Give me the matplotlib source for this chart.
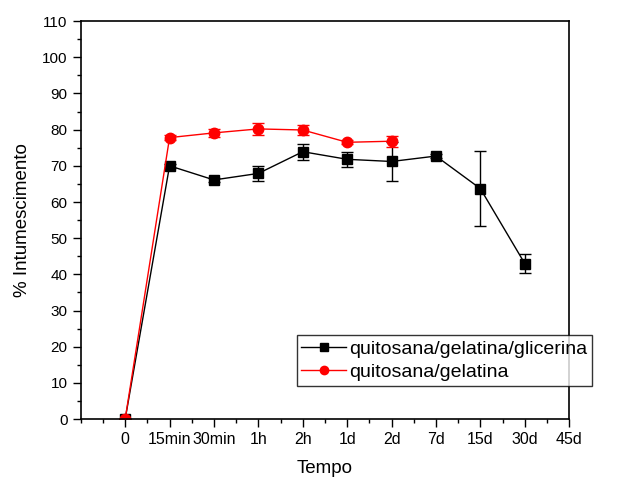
import matplotlib
matplotlib.use("Agg")
import matplotlib.pyplot as plt
from matplotlib.ticker import MultipleLocator

plt.rcParams['font.family'] = ['Liberation Sans', 'DejaVu Sans']

labels = ["0", "15min", "30min", "1h", "2h", "1d", "2d", "7d", "15d", "30d", "45d"]

# quitosana/gelatina/glicerina
glic_x = [0, 1, 2, 3, 4, 5, 6, 7, 8, 9]
glic_y = [0, 70.0, 66.1, 67.9, 73.9, 71.8, 71.2, 72.7, 63.7, 43.0]
glic_err = [0, 0.5, 0.5, 2.0, 2.2, 2.0, 5.4, 0.5, 10.3, 2.7]

# quitosana/gelatina
gel_x = [0, 1, 2, 3, 4, 5, 6]
gel_y = [0, 77.8, 79.1, 80.2, 79.9, 76.5, 76.8]
gel_err = [0, 0.8, 1.0, 1.6, 1.3, 0.5, 1.5]

fig = plt.figure(figsize=(6.31, 4.79), dpi=100)
ax = fig.add_axes([0.128, 0.125, 0.774, 0.831])

# error bars first, then lines+markers (keeps legend clean)
ax.errorbar(glic_x, glic_y, yerr=glic_err, fmt="none", ecolor="black",
            capsize=4, elinewidth=1, capthick=1)
ax.plot(glic_x, glic_y, color="black", marker="s", ms=6.5, lw=1,
        label="quitosana/gelatina/glicerina")
ax.errorbar(gel_x, gel_y, yerr=gel_err, fmt="none", ecolor="red",
            capsize=4, elinewidth=1, capthick=1)
ax.plot(gel_x, gel_y, color="red", marker="o", ms=7.5, lw=1,
        label="quitosana/gelatina")

ax.set_xlim(-1, 10)
ax.set_ylim(0, 110)
ax.set_xticks(range(0, 11))
ax.set_xticklabels(labels)
ax.xaxis.set_minor_locator(MultipleLocator(0.5))
ax.yaxis.set_major_locator(MultipleLocator(10))
ax.yaxis.set_minor_locator(MultipleLocator(5))
ax.tick_params(which="major", direction="out", length=6, width=1)
ax.tick_params(which="minor", direction="out", length=3, width=1)
ax.tick_params(axis="x", labelsize=11.5)
ax.tick_params(axis="y", labelsize=11)
for s in ax.spines.values():
    s.set_linewidth(1.2)

ax.set_xlabel("Tempo", fontsize=13.5, labelpad=9)
ax.set_ylabel("% Intumescimento", fontsize=13.5, labelpad=8)

leg = ax.legend(loc="lower right", bbox_to_anchor=(1.047, 0.083), fontsize=14,
                frameon=True, fancybox=False, edgecolor="black",
                handlelength=2.3, handletextpad=0.15, borderpad=0.25,
                labelspacing=0.3, borderaxespad=0, markerscale=0.8)
leg.get_frame().set_linewidth(1)

fig.savefig("out.png", dpi=100)
